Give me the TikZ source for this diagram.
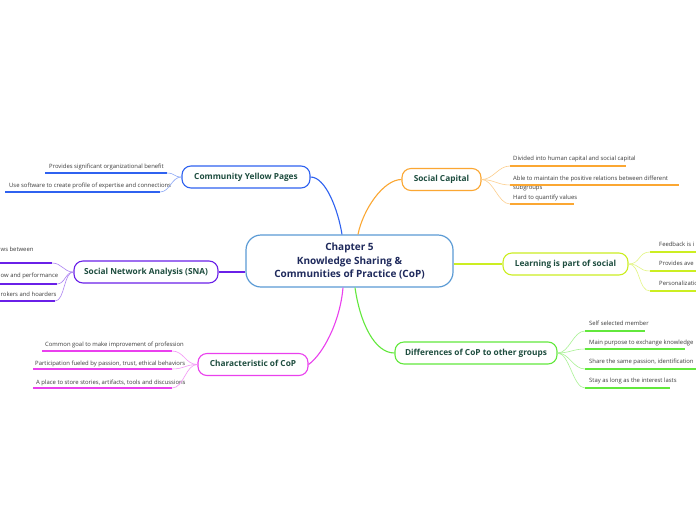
\documentclass[tikz,border=0pt]{standalone}
\usepackage{fontspec}
\setmainfont{Open Sans}
\usetikzlibrary{calc}
\definecolor{cblue}{HTML}{2F62F0}
\definecolor{corange}{HTML}{FBA732}
\definecolor{cpurple}{HTML}{6A20E8}
\definecolor{clime}{HTML}{CCEE22}
\definecolor{cmagenta}{HTML}{EA40EE}
\definecolor{cgreen}{HTML}{62E83C}
\definecolor{ccentral}{HTML}{5B9BD5}
\definecolor{topictext}{HTML}{1E4D3F}
\definecolor{centraltext}{HTML}{1F2A5C}
\definecolor{leaftext}{HTML}{3C3C3C}
\begin{document}
\begin{tikzpicture}[x=1pt,y=-1pt,
  topic/.style={draw=#1, line width=1.1pt, rounded corners=9pt, fill=white,
    minimum height=22pt, inner sep=0pt, text height=6pt, text depth=1.8pt,
    font=\bfseries\fontsize{8.3}{10}\selectfont, text=topictext},
  centralbox/.style={draw=ccentral, line width=1.2pt, rounded corners=15pt, fill=white,
    minimum width=207pt, minimum height=52pt, inner sep=0pt, align=center,
    font=\bfseries\fontsize{10}{13.5}\selectfont, text=centraltext},
  leaf/.style={anchor=west, inner sep=0pt, text height=4.3pt, text depth=1.4pt,
    font=\fontsize{5.9}{7}\selectfont, text=leaftext},
  ul/.style={draw=#1, line width=1.6pt},
  lc/.style={draw=#1!55, line width=0.6pt},
  mc/.style={draw=#1, line width=1.1pt},
]
\useasboundingbox[fill=white] (0,0) rectangle (696,520);

% central
\node[centralbox] (center) at (349.5,261) {Chapter 5\\Knowledge Sharing \&\\Communities of Practice (CoP)};

% main topics
\node[topic=cblue, minimum width=128pt] (cyp) at (246,177) {Community Yellow Pages};
\node[topic=corange, minimum width=79pt] (sc) at (441.5,179.5) {Social Capital};
\node[topic=cpurple, minimum width=144pt] (sna) at (146,272) {Social Network Analysis (SNA)};
\node[topic=clime, minimum width=125pt] (learn) at (565.5,264) {Learning is part of social};
\node[topic=cmagenta, minimum width=110pt] (char) at (253,364.5) {Characteristic of CoP};
\node[topic=cgreen, minimum width=162pt] (diff) at (476,353) {Differences of CoP to other groups};

% main connectors
\draw[mc=cblue] (cyp.east) .. controls +(15,0) and +(-4,-25) .. ([xshift=-7.5pt]center.north);
\draw[mc=corange] (sc.west) .. controls +(-18,0) and +(5,-25) .. ([xshift=8.5pt]center.north);
\draw[mc=cmagenta] (char.east) .. controls +(14,-10) and +(-3,35) .. ([xshift=-6.5pt]center.south);
\draw[mc=cgreen] (diff.west) .. controls +(-20,0) and +(5,35) .. ([xshift=5.5pt]center.south);
\draw[mc=cpurple] (sna.east) -- (sna.east -| center.west);
\draw[mc=clime] (center.east |- learn.west) -- (learn.west);

% CYP leaves
\node[leaf] (cyp1) at (49,167) {Provides significant organizational benefit};
\node[leaf] (cyp2) at (9,186) {Use software to create profile of expertise and connections};
\coordinate (cyp1a) at (45,173); \coordinate (cyp1b) at (167,173);
\coordinate (cyp2a) at (5,192); \coordinate (cyp2b) at (160,192);
\draw[ul=cblue] (cyp1a) -- (cyp1b);
\draw[ul=cblue] (cyp2a) -- (cyp2b);
\draw[lc=cblue] (cyp.west) .. controls +(-8,0) and +(8,0) .. (cyp1b);
\draw[lc=cblue] (cyp.west) .. controls +(-10,0) and +(10,0) .. (cyp2b);

% Social capital leaves
\node[leaf] (sc1) at (513,159) {Divided into human capital and social capital};
\node[leaf] (sc2) at (513,179) {Able to maintain the positive relations between different};
\node[leaf] (sc2b) at (513,188) {subgroups};
\node[leaf] (sc3) at (513,198) {Hard to quantify values};
\coordinate (sc1a) at (510,166); \coordinate (sc1b) at (626,166);
\coordinate (sc2a) at (510,185); \coordinate (sc2c) at (679,185);
\coordinate (sc3a) at (510,204); \coordinate (sc3b) at (574,204);
\draw[ul=corange] (sc1a) -- (sc1b);
\draw[ul=corange] (sc2a) -- (sc2c);
\draw[ul=corange] (sc3a) -- (sc3b);
\draw[lc=corange] (sc.east) .. controls +(12,0) and +(-12,0) .. (sc1a);
\draw[lc=corange] (sc.east) .. controls +(12,0) and +(-12,0) .. (sc2a);
\draw[lc=corange] (sc.east) .. controls +(12,0) and +(-12,0) .. (sc3a);

% SNA leaves (cut by the left edge)
\node[leaf] (sna1) at (0.5,250) {ws between};
\node[leaf] (sna2) at (0.5,276) {ow and performance};
\node[leaf] (sna3) at (0.5,295) {rokers and hoarders};
\coordinate (sna1a) at (0,263); \coordinate (sna1b) at (52,263);
\coordinate (sna2a) at (0,284); \coordinate (sna2b) at (57,284);
\coordinate (sna3a) at (0,301); \coordinate (sna3b) at (55,301);
\draw[ul=cpurple] (sna1a) -- (sna1b);
\draw[ul=cpurple] (sna2a) -- (sna2b);
\draw[ul=cpurple] (sna3a) -- (sna3b);
\draw[lc=cpurple] (sna.west) .. controls +(-10,0) and +(10,0) .. (sna1b);
\draw[lc=cpurple] (sna.west) .. controls +(-8,0) and +(8,0) .. (sna2b);
\draw[lc=cpurple] (sna.west) .. controls +(-10,0) and +(10,0) .. (sna3b);

% Learning leaves (cut by the right edge)
\node[leaf] (le1) at (659,245) {Feedback is i};
\node[leaf] (le2) at (659,264) {Provides ave};
\node[leaf] (le3) at (659,284) {Personalizatio};
\coordinate (le1a) at (650,252); \coordinate (le1b) at (696,252);
\coordinate (le2a) at (650,271); \coordinate (le2b) at (696,271);
\coordinate (le3a) at (650,291); \coordinate (le3b) at (696,291);
\draw[ul=clime] (le1a) -- (le1b);
\draw[ul=clime] (le2a) -- (le2b);
\draw[ul=clime] (le3a) -- (le3b);
\draw[lc=clime] (learn.east) .. controls +(12,0) and +(-12,0) .. (le1a);
\draw[lc=clime] (learn.east) .. controls +(12,0) and +(-12,0) .. (le2a);
\draw[lc=clime] (learn.east) .. controls +(12,0) and +(-12,0) .. (le3a);

% Characteristic leaves
\node[leaf] (ch1) at (45,345) {Common goal to make improvement of profession};
\node[leaf] (ch2) at (35,364) {Participation fueled by passion, trust, ethical behaviors};
\node[leaf] (ch3) at (36,383) {A place to store stories, artifacts, tools and discussions};
\coordinate (ch1a) at (42,351); \coordinate (ch1b) at (172,351);
\coordinate (ch2a) at (33,369); \coordinate (ch2b) at (172,369);
\coordinate (ch3a) at (33,388); \coordinate (ch3b) at (172,388);
\draw[ul=cmagenta] (ch1a) -- (ch1b);
\draw[ul=cmagenta] (ch2a) -- (ch2b);
\draw[ul=cmagenta] (ch3a) -- (ch3b);
\draw[lc=cmagenta] (char.west) .. controls +(-12,0) and +(12,0) .. (ch1b);
\draw[lc=cmagenta] (char.west) .. controls +(-12,0) and +(12,0) .. (ch2b);
\draw[lc=cmagenta] (char.west) .. controls +(-12,0) and +(12,0) .. (ch3b);

% Differences leaves
\node[leaf] (df1) at (589,324) {Self selected member};
\node[leaf] (df2) at (589,343) {Main purpose to exchange knowledge};
\node[leaf] (df3) at (589,362) {Share the same passion, identification};
\node[leaf] (df4) at (589,381) {Stay as long as the interest lasts};
\coordinate (df1a) at (585,331); \coordinate (df1b) at (645,331);
\coordinate (df2a) at (585,349); \coordinate (df2b) at (685,349);
\coordinate (df3a) at (585,369); \coordinate (df3b) at (696,369);
\coordinate (df4a) at (585,388); \coordinate (df4b) at (670,388);
\draw[ul=cgreen] (df1a) -- (df1b);
\draw[ul=cgreen] (df2a) -- (df2b);
\draw[ul=cgreen] (df3a) -- (df3b);
\draw[ul=cgreen] (df4a) -- (df4b);
\draw[lc=cgreen] (diff.east) .. controls +(12,0) and +(-12,0) .. (df1a);
\draw[lc=cgreen] (diff.east) .. controls +(12,0) and +(-12,0) .. (df2a);
\draw[lc=cgreen] (diff.east) .. controls +(12,0) and +(-12,0) .. (df3a);
\draw[lc=cgreen] (diff.east) .. controls +(12,0) and +(-12,0) .. (df4a);
\end{tikzpicture}
\end{document}
